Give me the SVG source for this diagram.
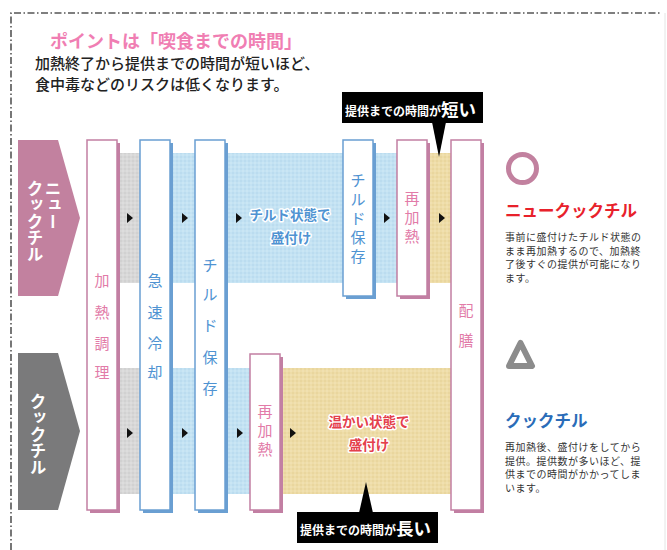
<svg xmlns="http://www.w3.org/2000/svg" width="667" height="550" viewBox="0 0 667 550">
<defs>
<style>
.jp{font-family:"Noto Sans CJK JP","Noto Sans",sans-serif}
.pk{fill:#e27ba8}
.bl{fill:#4f93d2}
.sh-pk{fill:#c27fa3}
.sh-bl{fill:#6a9fd2}
.box-pk{fill:#fff;stroke:#c27fa3;stroke-width:1.5}
.box-bl{fill:#fff;stroke:#6a9fd2;stroke-width:1.5}
.ptxt{font-size:15px;text-anchor:middle}
.stxt{font-size:15px;text-anchor:middle}
.arr{fill:#111}
.desc{font-size:10px;letter-spacing:0.5px;fill:#333}
.lbl{font-size:13.5px;font-weight:bold;text-anchor:middle;stroke:#fff;stroke-width:3;paint-order:stroke;stroke-linejoin:round}
.vert{writing-mode:vertical-rl;font-size:16.5px;font-weight:bold;fill:#fff}
</style>
<pattern id="dotGray" width="4" height="4" patternUnits="userSpaceOnUse">
<rect width="4" height="4" fill="#d8d8d8"/><circle cx="1" cy="1" r="0.8" fill="#c9c9c9"/><circle cx="3" cy="3" r="0.8" fill="#e4e4e4"/>
</pattern>
<pattern id="dotBlue" width="4" height="4" patternUnits="userSpaceOnUse">
<rect width="4" height="4" fill="#c3e2f3"/><circle cx="1" cy="1" r="0.8" fill="#b2d6ec"/><circle cx="3" cy="3" r="0.8" fill="#d4ebf7"/>
</pattern>
<pattern id="dotBeige" width="4" height="4" patternUnits="userSpaceOnUse">
<rect width="4" height="4" fill="#eedca7"/><circle cx="1" cy="1" r="0.8" fill="#e3ce93"/><circle cx="3" cy="3" r="0.8" fill="#f4e5bb"/>
</pattern>
</defs>
<rect width="667" height="550" fill="#fff"/>

<g id="frame">
<path d="M11,550 V13 H660" fill="none" stroke="#555" stroke-width="1.6" stroke-dasharray="7 2.5 1.5 2.5"/>
<line x1="665" y1="13" x2="665" y2="550" stroke="#e4e4e4" stroke-width="1"/>
</g>

<g id="header" class="jp">
<text x="50" y="48" font-size="18" font-weight="bold" fill="#f07eb3">ポイントは「喫食までの時間」</text>
<text x="35" y="69" font-size="15" font-weight="500" fill="#222">加熱終了から提供までの時間が短いほど、</text>
<text x="35" y="90" font-size="15" font-weight="500" fill="#222">食中毒などのリスクは低くなります。</text>
</g>

<g id="bands">
<rect x="115" y="153" width="27" height="130" fill="url(#dotGray)"/>
<rect x="168" y="153" width="230" height="130" fill="url(#dotBlue)"/>
<rect x="428" y="153" width="24" height="130" fill="url(#dotBeige)"/>
<rect x="115" y="368" width="27" height="126" fill="url(#dotGray)"/>
<rect x="168" y="368" width="84" height="126" fill="url(#dotBlue)"/>
<rect x="281" y="368" width="171" height="126" fill="url(#dotBeige)"/>
</g>

<g id="chevron-newcookchill">
<polygon points="18,140 58,140 80,218 58,296 18,296" fill="#c2819f"/>
<text class="jp vert" x="53" y="180">ニュー</text>
<text class="jp vert" x="35" y="180">クックチル</text>
</g>

<g id="chevron-cookchill">
<polygon points="18,353 58,353 80,431 58,510 18,510" fill="#7a7a7b"/>
<text class="jp vert" x="38" y="393">クックチル</text>
</g>

<g id="node-kanetsu-chori">
<rect class="sh-pk" x="90" y="143" width="30" height="370"/>
<rect class="box-pk" x="87" y="140" width="30" height="370"/>
<text class="jp ptxt pk"><tspan x="102" y="286">加</tspan><tspan x="102" y="318">熱</tspan><tspan x="102" y="349">調</tspan><tspan x="102" y="378">理</tspan></text>
</g>

<g id="node-kyusoku-reikyaku">
<rect class="sh-bl" x="143" y="143" width="30" height="370"/>
<rect class="box-bl" x="140" y="140" width="30" height="370"/>
<text class="jp ptxt bl"><tspan x="155" y="286">急</tspan><tspan x="155" y="318">速</tspan><tspan x="155" y="349">冷</tspan><tspan x="155" y="378">却</tspan></text>
</g>

<g id="node-chilled-hozon-1">
<rect class="sh-bl" x="198" y="143" width="30" height="370"/>
<rect class="box-bl" x="195" y="140" width="30" height="370"/>
<text class="jp ptxt bl"><tspan x="210" y="271">チ</tspan><tspan x="210" y="300">ル</tspan><tspan x="210" y="331">ド</tspan><tspan x="210" y="363">保</tspan><tspan x="210" y="394">存</tspan></text>
</g>

<g id="node-chilled-hozon-2">
<rect class="sh-bl" x="346" y="143" width="30" height="156"/>
<rect class="box-bl" x="343" y="140" width="30" height="156"/>
<text class="jp stxt bl"><tspan x="358" y="186">チ</tspan><tspan x="358" y="205">ル</tspan><tspan x="358" y="224">ド</tspan><tspan x="358" y="243">保</tspan><tspan x="358" y="262">存</tspan></text>
</g>

<g id="node-saikanetsu-1">
<rect class="sh-pk" x="400" y="143" width="30" height="156"/>
<rect class="box-pk" x="397" y="140" width="30" height="156"/>
<text class="jp stxt pk"><tspan x="412" y="204">再</tspan><tspan x="412" y="223">加</tspan><tspan x="412" y="242">熱</tspan></text>
</g>

<g id="node-haizen">
<rect class="sh-pk" x="454" y="143" width="30" height="370"/>
<rect class="box-pk" x="451" y="140" width="30" height="370"/>
<text class="jp ptxt pk"><tspan x="466" y="316">配</tspan><tspan x="466" y="346">膳</tspan></text>
</g>

<g id="node-saikanetsu-2">
<rect class="sh-pk" x="253" y="357" width="30" height="156"/>
<rect class="box-pk" x="250" y="354" width="30" height="156"/>
<text class="jp stxt pk"><tspan x="265" y="417">再</tspan><tspan x="265" y="436">加</tspan><tspan x="265" y="455">熱</tspan></text>
</g>

<g id="label-chilled-moritsuke" class="jp">
<text class="lbl bl" x="290" y="220">チルド状態で</text>
<text class="lbl bl" x="291" y="243">盛付け</text>
</g>

<g id="label-warm-moritsuke" class="jp">
<text class="lbl" fill="#e4404c" x="369" y="427">温かい状態で</text>
<text class="lbl" fill="#e4404c" x="369" y="450">盛付け</text>
</g>

<g id="connectors">
<polygon class="arr" points="127,213 133,218 127,223"/>
<polygon class="arr" points="182,213 188,218 182,223"/>
<polygon class="arr" points="236,213 242,218 236,223"/>
<polygon class="arr" points="384,213 390,218 384,223"/>
<polygon class="arr" points="439,213 445,218 439,223"/>
<polygon class="arr" points="127,428 133,433 127,438"/>
<polygon class="arr" points="182,428 188,433 182,438"/>
<polygon class="arr" points="237,428 243,433 237,438"/>
<polygon class="arr" points="290,428 296,433 290,438"/>
</g>

<g id="callout-short" class="jp">
<polygon points="432,122 446,122 439,157" fill="#000"/>
<rect x="342" y="92" width="141" height="31" fill="#000"/>
<text x="345" y="116" fill="#fff" font-weight="bold"><tspan font-size="12">提供までの時間が</tspan><tspan font-size="17.5">短い</tspan></text>
</g>

<g id="callout-long" class="jp">
<polygon points="359,513 373,513 366,482" fill="#000"/>
<rect x="297" y="512" width="141" height="31" fill="#000"/>
<text x="300" y="535" fill="#fff" font-weight="bold"><tspan font-size="12">提供までの時間が</tspan><tspan font-size="17.5">長い</tspan></text>
</g>

<g id="legend-newcookchill" class="jp">
<circle cx="522.5" cy="168.5" r="14" fill="none" stroke="#c2819f" stroke-width="5"/>
<text x="505" y="217" font-size="16.5" font-weight="bold" fill="#e8212b">ニュークックチル</text>
<text class="desc" x="505" y="241">事前に盛付けたチルド状態の</text>
<text class="desc" x="505" y="254.5">まま再加熱するので、加熱終</text>
<text class="desc" x="505" y="268">了後すぐの提供が可能になり</text>
<text class="desc" x="505" y="281.5">ます。</text>
</g>

<g id="legend-cookchill" class="jp">
<polygon points="520.5,343 532,366 509,366" fill="none" stroke="#8c8c8c" stroke-width="6" stroke-linejoin="round"/>
<text x="505" y="427" font-size="16.5" font-weight="bold" fill="#2a6cb8">クックチル</text>
<text class="desc" x="505" y="451">再加熱後、盛付けをしてから</text>
<text class="desc" x="505" y="464.5">提供。提供数が多いほど、提</text>
<text class="desc" x="505" y="478">供までの時間がかかってしま</text>
<text class="desc" x="505" y="491.5">います。</text>
</g>
</svg>
